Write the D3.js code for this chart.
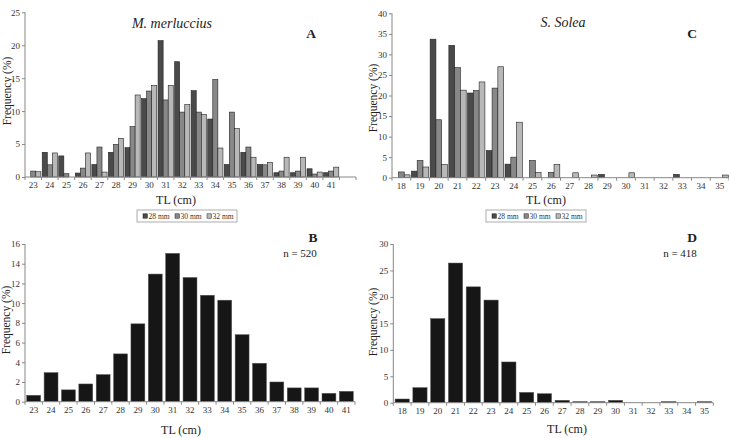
<!DOCTYPE html>
<html>
<head>
<meta charset="utf-8">
<script src="https://cdn.jsdelivr.net/npm/d3@7"></script>
<style>
	body { margin:0; background:#fff; }
	svg text { font-family:"Liberation Serif","Times New Roman",Times,serif; fill:#222; }
</style>
</head>
<body>
<svg id="chart" width="729" height="438"></svg>
<script>
// M. merluccius, per mesh size
var aCats = ["23","24","25","26","27","28","29","30","31","32","33","34","35","36","37","38","39","40","41"];
var a28 = [0, 3.75, 3.2, 0.6, 1.9, 3.75, 4.45, 11.9, 20.7, 17.5, 13.1, 8.8, 1.9, 3.75, 1.9, 0.65, 0.65, 1.25, 0.65];
var a30 = [0.9, 1.85, 0.5, 1.35, 4.55, 4.95, 7.65, 13.05, 11.7, 9.85, 9.85, 14.8, 9.85, 4.55, 1.85, 0.9, 0.9, 0.45, 0.9];
var a32 = [0.8, 3.65, 0, 3.65, 0.75, 5.85, 12.45, 13.9, 13.9, 11.0, 9.5, 4.4, 7.35, 3.0, 2.2, 3.0, 3.0, 0.75, 1.5];
// M. merluccius, pooled
var bCats = aCats;
var bVals = [0.65, 2.95, 1.2, 1.8, 2.75, 4.85, 7.9, 12.95, 15.05, 12.6, 10.8, 10.3, 6.8, 3.9, 2.0, 1.4, 1.4, 0.85, 1.05];
// S. solea, per mesh size
var cCats = ["18","19","20","21","22","23","24","25","26","27","28","29","30","31","32","33","34","35"];
var c28 = [0, 1.6, 33.7, 32.2, 20.6, 6.6, 3.3, 0, 0, 0, 0, 0.8, 0, 0, 0, 0.8, 0, 0];
var c30 = [1.4, 4.2, 14.1, 26.8, 21.2, 21.8, 5.0, 4.2, 1.3, 0, 0, 0, 0, 0, 0, 0, 0, 0];
var c32 = [0.7, 2.6, 3.2, 21.3, 23.3, 27.0, 13.5, 1.3, 3.2, 1.2, 0.65, 0, 1.2, 0, 0, 0, 0, 0.65];
// S. solea, pooled
var dCats = cCats;
var dVals = [0.7, 2.85, 15.9, 26.4, 21.9, 19.4, 7.7, 1.95, 1.7, 0.45, 0.2, 0.2, 0.45, 0, 0, 0.2, 0, 0.2];

var series = ["28 mm", "30 mm", "32 mm"];
var color = d3.scaleOrdinal().domain(series).range(["#4a4a4a", "#888888", "#b8b8b8"]);
var serif = "'Liberation Serif','Times New Roman',Times,serif";

var svg = d3.select("#chart");

// pair values with their category, drop empty ones
function pts(cats, vals) {
	return vals.map(function(v, i) { return { c: cats[i], v: v }; }).filter(function(d) { return d.v > 0; });
}

function panel(o) {
	var g = svg.append("g"),
		cells = o.cats.concat(o.extra ? [""] : []),
		x = d3.scaleBand().domain(cells).range([o.x0, o.x1]),
		y = d3.scaleLinear().domain([0, o.max]).range([o.y0, o.yTop]),
		bw = x.bandwidth();

	// y axis
	var ya = g.append("g").attr("transform", "translate(" + o.x0 + ",0)")
		.call(d3.axisLeft(y).tickValues(d3.range(0, o.max + 1, o.step)).tickSize(3).tickSizeOuter(0).tickPadding(2));
	ya.select(".domain").remove();
	ya.selectAll(".tick line").attr("stroke", "#888");
	ya.selectAll(".tick text").style("font-size", "9px").style("font-family", serif).style("fill", "#333");
	g.append("line").attr("x1", o.x0).attr("x2", o.x0).attr("y1", o.y0).attr("y2", o.yTop).attr("stroke", "#888");

	// bars
	if (o.groups) {
		var inner = d3.scaleBand().domain(series).range([bw * o.pad / 2, bw * (1 - o.pad / 2)]);
		o.groups.forEach(function(vals, s) {
			g.append("g").selectAll("rect").data(pts(o.cats, vals)).join("rect")
				.attr("x", function(d) { return x(d.c) + inner(series[s]); })
				.attr("width", inner.bandwidth())
				.attr("y", function(d) { return y(d.v); })
				.attr("height", function(d) { return o.y0 - y(d.v); })
				.attr("fill", color(series[s])).attr("stroke", "#222").attr("stroke-width", 0.6);
		});
	} else {
		g.append("g").selectAll("rect").data(pts(o.cats, o.vals)).join("rect")
			.attr("x", function(d) { return x(d.c) + bw * o.pad / 2; })
			.attr("width", bw * (1 - o.pad))
			.attr("y", function(d) { return y(d.v); })
			.attr("height", function(d) { return o.y0 - y(d.v); })
			.attr("fill", "#161616").attr("stroke", "#555").attr("stroke-width", 0.5);
	}

	// x axis, ticks between categories
	var xa = g.append("g").attr("transform", "translate(0," + o.y0 + ")")
		.call(d3.axisBottom(x).tickSize(0).tickPadding(5));
	xa.select(".domain").remove();
	xa.selectAll(".tick text").style("font-size", "9px").style("font-family", serif).style("fill", "#333");
	g.append("line").attr("x1", o.x0).attr("x2", o.x1).attr("y1", o.y0).attr("y2", o.y0).attr("stroke", "#888");
	g.append("g").selectAll("line").data(d3.range(cells.length + 1)).join("line")
		.attr("x1", function(i) { return o.x0 + i * x.step(); })
		.attr("x2", function(i) { return o.x0 + i * x.step(); })
		.attr("y1", o.y0).attr("y2", o.y0 + 3).attr("stroke", "#888");

	// labels
	g.append("text").attr("transform", "translate(" + o.yl[0] + "," + o.yl[1] + ") rotate(-90)")
		.attr("text-anchor", "middle").attr("dy", "0.35em").style("font-size", "11.5px").text("Frequency (%)");
	g.append("text").attr("x", o.xl[0]).attr("y", o.xl[1]).attr("text-anchor", "middle").attr("dy", "0.35em")
		.style("font-size", "12px").text("TL (cm)");
	g.append("text").attr("x", o.tag[0]).attr("y", o.tag[1]).attr("text-anchor", "middle").attr("dy", "0.35em")
		.style("font-size", "13.5px").style("font-weight", "bold").text(o.tag[2]);
	if (o.title)
		g.append("text").attr("x", o.title[0]).attr("y", o.title[1]).attr("text-anchor", "middle").attr("dy", "0.35em")
			.style("font-size", "14px").style("font-style", "italic").text(o.title[2]);
	if (o.n)
		g.append("text").attr("x", o.n[0]).attr("y", o.n[1]).attr("text-anchor", "middle").attr("dy", "0.35em")
			.style("font-size", "11px").text(o.n[2]);
	if (o.legend) legend(o.legend[0], o.legend[1]);
}

function legend(lx, ly) {
	var g = svg.append("g").attr("transform", "translate(" + lx + "," + ly + ")");
	g.append("rect").attr("width", 100).attr("height", 12).attr("fill", "#fff").attr("stroke", "#999").attr("stroke-width", 0.8);
	var it = g.selectAll(".it").data(series).join("g").attr("class", "it")
		.attr("transform", function(d, i) { return "translate(" + (6 + i * 32) + ",6)"; });
	it.append("rect").attr("x", 0).attr("y", -2.2).attr("width", 4.4).attr("height", 4.4)
		.attr("fill", function(d) { return color(d); }).attr("stroke", "#222").attr("stroke-width", 0.5);
	it.append("text").attr("x", 5.5).attr("dy", "0.35em").style("font-size", "7.5px").style("fill", "#333").text(function(d) { return d; });
}

panel({ cats: aCats, groups: [a28, a30, a32], extra: true, pad: 0.08,
	x0: 25, x1: 356, y0: 177, yTop: 12.3, max: 25, step: 5,
	yl: [7, 91], xl: [176, 200], tag: [311, 33, "A"], title: [172, 23, "M. merluccius"], legend: [137, 210] });
panel({ cats: cCats, groups: [c28, c30, c32], pad: 0.075,
	x0: 392, x1: 729, y0: 177.7, yTop: 13.3, max: 40, step: 5,
	yl: [373, 98], xl: [546, 200], tag: [692, 33, "C"], title: [563, 22, "S. Solea"], legend: [486, 210] });
panel({ cats: bCats, vals: bVals, pad: 0.2,
	x0: 25, x1: 355, y0: 401.7, yTop: 244, max: 16, step: 2,
	yl: [6, 320], xl: [181, 430], tag: [313, 237, "B"], n: [300, 253, "n = 520"] });
panel({ cats: dCats, vals: dVals, pad: 0.2,
	x0: 393.3, x1: 713.3, y0: 402.7, yTop: 244, max: 30, step: 5,
	yl: [373, 322], xl: [567, 429], tag: [692, 237, "D"], n: [680, 253, "n = 418"] });
</script>
</body>
</html>
